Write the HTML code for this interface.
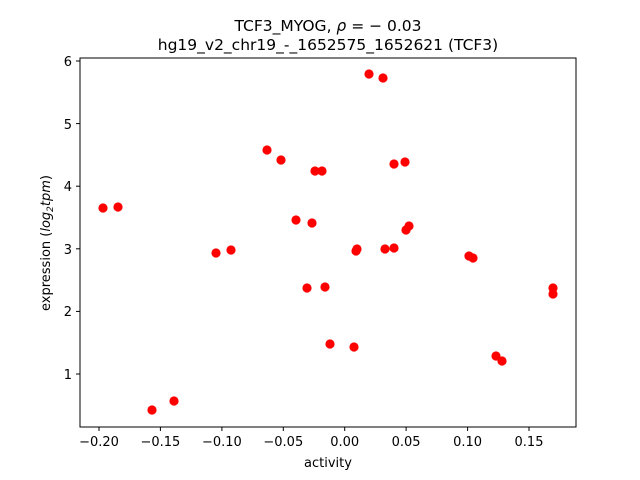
<!DOCTYPE html>
<html><head><style>body{margin:0;background:#fff}svg{display:block}</style></head><body>
<svg width="640" height="480" viewBox="0 0 640 480" xmlns="http://www.w3.org/2000/svg" font-family="'DejaVu Sans', sans-serif">
<rect width="640" height="480" fill="#fff"/>
<g fill="#ff0000">
<circle cx="103" cy="208" r="4.6"/><circle cx="118" cy="207" r="4.6"/><circle cx="152" cy="410" r="4.6"/><circle cx="174" cy="401" r="4.6"/>
<circle cx="216" cy="253" r="4.6"/><circle cx="231" cy="250" r="4.6"/><circle cx="267" cy="150" r="4.6"/><circle cx="281" cy="160" r="4.6"/>
<circle cx="296" cy="220" r="4.6"/><circle cx="312" cy="223" r="4.6"/><circle cx="307" cy="288" r="4.6"/><circle cx="315" cy="171" r="4.6"/>
<circle cx="322" cy="171" r="4.6"/><circle cx="325" cy="287" r="4.6"/><circle cx="330" cy="344" r="4.6"/><circle cx="354" cy="347" r="4.6"/>
<circle cx="356" cy="251" r="4.6"/><circle cx="357" cy="249" r="4.6"/><circle cx="369" cy="74" r="4.6"/><circle cx="383" cy="78" r="4.6"/>
<circle cx="385" cy="249" r="4.6"/><circle cx="394" cy="248" r="4.6"/><circle cx="394" cy="164" r="4.6"/><circle cx="405" cy="162" r="4.6"/>
<circle cx="406" cy="230" r="4.6"/><circle cx="409" cy="226" r="4.6"/><circle cx="469" cy="256" r="4.6"/><circle cx="473" cy="258" r="4.6"/>
<circle cx="496" cy="356" r="4.6"/><circle cx="502" cy="361" r="4.6"/><circle cx="553" cy="288" r="4.6"/><circle cx="553" cy="294" r="4.6"/>
</g>
<rect x="80" y="58" width="496" height="369" fill="none" stroke="#000" stroke-width="1"/>
<g stroke="#000" stroke-width="1">
<line x1="99" y1="427" x2="99" y2="431"/><line x1="160.4" y1="427" x2="160.4" y2="431"/><line x1="221.9" y1="427" x2="221.9" y2="431"/><line x1="283.3" y1="427" x2="283.3" y2="431"/><line x1="344.7" y1="427" x2="344.7" y2="431"/><line x1="406.1" y1="427" x2="406.1" y2="431"/><line x1="467.6" y1="427" x2="467.6" y2="431"/><line x1="529" y1="427" x2="529" y2="431"/>
<line x1="76" y1="374" x2="80" y2="374"/><line x1="76" y1="311.4" x2="80" y2="311.4"/><line x1="76" y1="248.8" x2="80" y2="248.8"/><line x1="76" y1="186.2" x2="80" y2="186.2"/><line x1="76" y1="123.6" x2="80" y2="123.6"/><line x1="76" y1="61" x2="80" y2="61"/>
</g>
<g font-size="13" text-anchor="middle" fill="#000">
<text x="99" y="446">−0.20</text><text x="160.4" y="446">−0.15</text><text x="221.9" y="446">−0.10</text><text x="283.3" y="446">−0.05</text><text x="344.7" y="446">0.00</text><text x="406.1" y="446">0.05</text><text x="467.6" y="446">0.10</text><text x="529" y="446">0.15</text>
</g>
<g font-size="13" text-anchor="end" fill="#000">
<text x="72" y="379">1</text><text x="72" y="316">2</text><text x="72" y="254">3</text><text x="72" y="191">4</text><text x="72" y="129">5</text><text x="72" y="66">6</text>
</g>
<text x="328" y="467" font-size="13" text-anchor="middle">activity</text>
<text transform="translate(50,243) rotate(-90)" font-size="13" text-anchor="middle">expression (<tspan font-style="italic">log</tspan><tspan font-style="italic" font-size="9" dy="3">2</tspan><tspan font-style="italic" dy="-3">tpm</tspan>)</text>
<text x="328" y="31" font-size="15.5" text-anchor="middle">TCF3_MYOG, <tspan font-style="italic">ρ</tspan> = − 0.03</text>
<text x="328" y="50" font-size="15.5" text-anchor="middle">hg19_v2_chr19_-_1652575_1652621 (TCF3)</text>
</svg>
</body></html>
